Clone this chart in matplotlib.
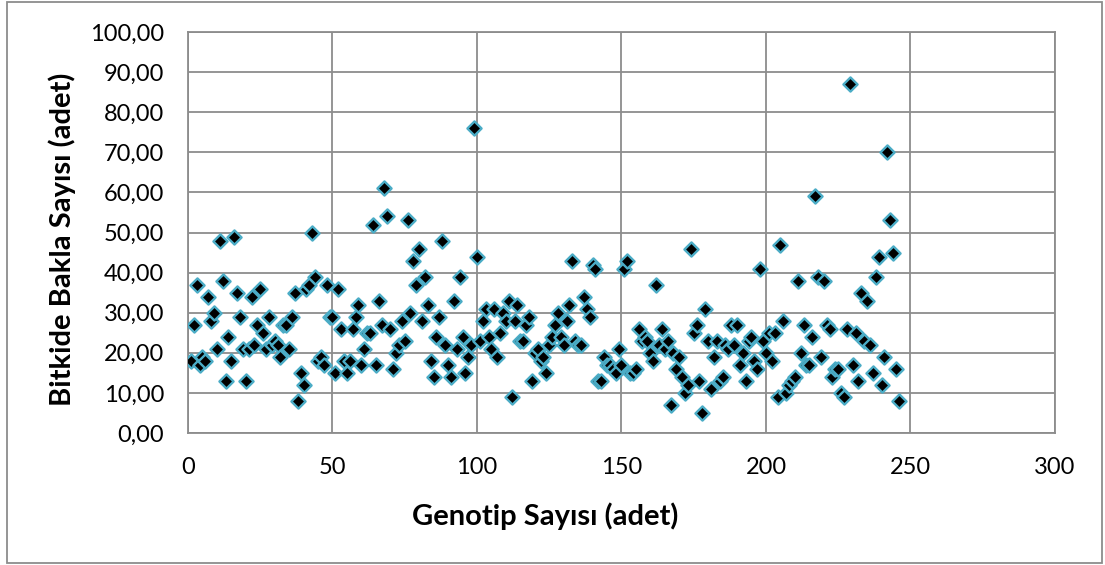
import matplotlib
matplotlib.use("Agg")
import matplotlib.pyplot as plt
from matplotlib.ticker import FuncFormatter, MultipleLocator
from matplotlib.patches import Rectangle

# pod count per plant for each genotype
bakla = [18, 27, 37, 17, 19, 18, 34, 28, 30, 21, 48, 38, 13, 24, 18, 49, 35, 29, 21, 13,
         21, 34, 22, 27, 36, 25, 21, 29, 22, 23, 22, 19, 27, 27, 21, 29, 35, 8, 15, 12,
         36, 37, 50, 39, 18, 19, 17, 37, 29, 29, 15, 36, 26, 18, 15, 18, 26, 29, 32, 17,
         21, 25, 25, 52, 17, 33, 27, 61, 54, 26, 16, 20, 22, 28, 23, 53, 30, 43, 37, 46,
         28, 39, 32, 18, 14, 24, 29, 48, 22, 17, 14, 33, 21, 39, 24, 15, 19, 22, 76, 44,
         23, 28, 31, 24, 21, 31, 19, 25, 30, 28, 33, 9, 28, 32, 23, 23, 27, 29, 13, 20,
         21, 18, 19, 15, 22, 24, 27, 30, 24, 22, 28, 32, 43, 23, 22, 22, 34, 31, 29, 42,
         41, 13, 13, 19, 17, 17, 16, 15, 21, 17, 41, 43, 15, 15, 16, 26, 23, 24, 23, 20,
         18, 37, 22, 26, 21, 23, 7, 20, 16, 19, 14, 10, 12, 46, 25, 27, 13, 5, 31, 23,
         11, 19, 23, 13, 14, 22, 21, 27, 22, 27, 17, 20, 13, 23, 24, 18, 16, 41, 23, 20,
         25, 18, 25, 9, 47, 28, 10, 12, 13, 14, 38, 20, 27, 17, 17, 24, 59, 39, 19, 38,
         27, 26, 14, 16, 16, 10, 9, 26, 87, 17, 25, 13, 35, 23, 33, 22, 15, 39, 44, 12,
         19, 70, 53, 45, 16, 8]
genotip = list(range(1, len(bakla) + 1))

plt.rcParams['font.family'] = ['Lato', 'DejaVu Sans']

fig = plt.figure(figsize=(11.05, 5.65), dpi=100)
ax = fig.add_axes([0.1701, 0.2336, 0.7846, 0.7097])

ax.scatter(genotip, bakla, marker='D', s=52, c='black',
           edgecolors='#4BACC6', linewidths=1.7, zorder=3)

ax.set_xlim(0, 300)
ax.set_ylim(0, 100)
ax.xaxis.set_major_locator(MultipleLocator(50))
ax.yaxis.set_major_locator(MultipleLocator(10))
ax.yaxis.set_major_formatter(FuncFormatter(lambda v, p: f"{v:.2f}".replace('.', ',')))

ax.grid(True, color='#8C8C8C', linewidth=1.3)
ax.set_axisbelow(True)
for sp in ax.spines.values():
    sp.set_color('#8C8C8C')
    sp.set_linewidth(1.3)
ax.tick_params(length=0, labelsize=17, colors='black')
ax.tick_params(axis='y', pad=17)
ax.tick_params(axis='x', pad=17)

fig.text(0.493, 0.087, 'Genotip Sayısı (adet)', ha='center', va='center',
         fontsize=21, fontweight='bold')
fig.text(0.056, 0.577, 'Bitkide Bakla Sayısı (adet)', ha='center', va='center',
         rotation=90, fontsize=21, fontweight='bold')

# outer chart border
fig.patches.append(Rectangle((0.0063, 0.0035), 0.991, 0.993, transform=fig.transFigure,
                             fill=False, edgecolor='#8C8C8C', linewidth=1.3))

plt.savefig('out.png', dpi=100)
